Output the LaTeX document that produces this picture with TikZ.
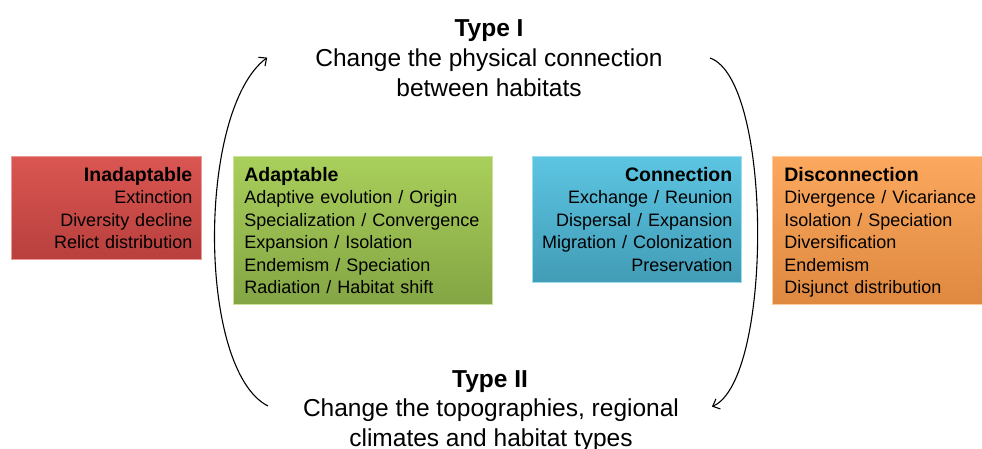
\documentclass[tikz,border=0pt]{standalone}
\usepackage{fontspec}
\setmainfont{Liberation Sans}
\usetikzlibrary{arrows.meta}

\definecolor{redtop}{RGB}{218,86,82}
\definecolor{redbot}{RGB}{184,64,61}
\definecolor{greentop}{RGB}{169,207,91}
\definecolor{greenbot}{RGB}{132,165,68}
\definecolor{bluetop}{RGB}{92,197,226}
\definecolor{bluebot}{RGB}{66,156,182}
\definecolor{orangetop}{RGB}{252,168,94}
\definecolor{orangebot}{RGB}{222,136,64}

\newcommand{\boxhead}[1]{{\fontsize{19.5}{22.5}\selectfont\textbf{#1}}}

\begin{document}
\begin{tikzpicture}[x=1pt,y=-1pt,shorten >=1pt,->,>={Straight Barb[length=6pt,width=11pt]}]
      \tikzstyle{box}=[anchor=north west,inner ysep=0pt,line width=0.6pt,font=\fontsize{18}{22.5}\selectfont]
      \tikzstyle{heading}=[align=center,anchor=base,font=\fontsize{24.5}{30}\selectfont]
      \tikzstyle{arc}=[line width=1.1pt]

      \useasboundingbox (0,0) rectangle (982,448);

      \node[box,top color=redtop,bottom color=redbot,draw=redtop!60!white,
            text width=172pt,inner xsep=9pt,minimum height=103pt,align=right] (inadapt) at (11,156)
            {\boxhead{Inadaptable}\\Extinction\\Diversity decline\\Relict distribution};
      \node[box,top color=greentop,bottom color=greenbot,draw=greentop!60!white,
            text width=237pt,inner xsep=11pt,minimum height=148pt,align=left] (adapt) at (233,156)
            {\boxhead{Adaptable}\\Adaptive evolution / Origin\\Specialization / Convergence\\Expansion / Isolation\\Endemism / Speciation\\Radiation / Habitat shift};
      \node[box,top color=bluetop,bottom color=bluebot,draw=bluetop!60!white,
            text width=191pt,inner xsep=9pt,minimum height=126pt,align=right] (conn) at (532,156)
            {\boxhead{Connection}\\Exchange / Reunion\\Dispersal / Expansion\\Migration / Colonization\\Preservation};
      \node[box,top color=orangetop,bottom color=orangebot,draw=orangetop!60!white,
            text width=205pt,inner xsep=12pt,minimum height=148pt,align=left] (disconn) at (772,156)
            {\boxhead{Disconnection}\\Divergence / Vicariance\\Isolation / Speciation\\Diversification\\Endemism\\\smash{Disjunct distribution}};

      \node[heading] (typeone) at (489,36) {\textbf{Type I}};
      \node[heading] (physical) at (489,96) {Change the physical connection\\between habitats};
      \node[heading] (typetwo) at (490,387) {\textbf{Type II}};
      \node[heading] (topo) at (491,446) {Change the topographies, regional\\climates and habitat types};

      \coordinate (lefttop) at (268,57);
      \coordinate (leftbot) at (268,406);
      \coordinate (righttop) at (710,58);
      \coordinate (rightbot) at (711,407);

      \draw[arc] (leftbot) .. controls (197,370) and (197,110) .. (lefttop);
      \draw[arc] (righttop) .. controls (773,80) and (773,380) .. (rightbot);
    \end{tikzpicture}
\end{document}
